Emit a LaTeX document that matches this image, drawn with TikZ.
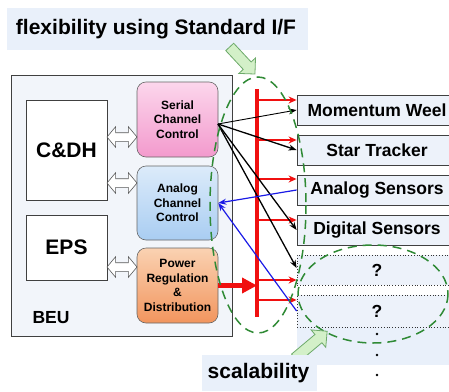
\documentclass[tikz,border=0pt]{standalone}
\usepackage{fontspec}
\setmainfont{Liberation Sans}
\usetikzlibrary{shapes.arrows,arrows.meta,calc}
\definecolor{lightbg}{HTML}{E9F0FA}
\definecolor{beufill}{HTML}{F2F5FA}
\definecolor{boxfill}{HTML}{EDF2FA}
\definecolor{edgegray}{HTML}{404040}
\definecolor{pinkA}{HTML}{FCD6EC}
\definecolor{pinkB}{HTML}{F39ACD}
\definecolor{blueA}{HTML}{DCEBFA}
\definecolor{blueB}{HTML}{A9CDF2}
\definecolor{orA}{HTML}{FAD2B2}
\definecolor{orB}{HTML}{F2955E}
\definecolor{ellgreen}{HTML}{2F8A35}
\definecolor{arrfill}{HTML}{D3F0C8}
\definecolor{arrdraw}{HTML}{6DAA6A}
\definecolor{busred}{HTML}{F01010}
\definecolor{linkblue}{HTML}{1A1AE6}
\begin{document}
\begin{tikzpicture}[x=1pt,y=-1pt,
  plainbox/.style={draw=edgegray,line width=0.8pt,inner sep=0pt,font=\bfseries},
  ctrl/.style={draw=gray!80!black,line width=0.6pt,rounded corners=9pt,inner sep=0pt,
     minimum width=81pt,align=center,font=\fontsize{12}{14.5}\selectfont\bfseries},
  devbox/.style={draw=edgegray,line width=0.8pt,fill=boxfill,inner sep=0pt,
     minimum width=160pt,minimum height=30pt,font=\fontsize{17.5}{20}\selectfont\bfseries},
  qbox/.style={devbox,draw=black!80,dotted,line width=0.8pt},
  dbl/.style={double arrow,draw=gray!70!black,fill=white,line width=0.6pt,inner sep=4pt,
     minimum height=30pt,double arrow head extend=6pt,double arrow tip angle=100},
  greenarrow/.style={single arrow,draw=arrdraw,fill=arrfill,line width=0.8pt,inner sep=5pt,
     single arrow head extend=6pt},
  ell/.style={draw=ellgreen,line width=1.5pt,dash pattern=on 9pt off 6pt},
  redarr/.style={busred,line width=1.6pt,-{Stealth[length=8pt,width=7pt]}},
  blackarr/.style={black,line width=1.3pt,-{Stealth[length=8pt,width=6pt]}},
  bluearr/.style={linkblue,line width=1.2pt,-{Stealth[length=8pt,width=6pt]}}
]
\useasboundingbox (0,0) rectangle (449,391);

% title
\node[fill=lightbg,minimum width=301pt,minimum height=42pt,inner sep=0pt] (titlebg) at (157.5,29) {};
\node[font=\fontsize{21}{24}\selectfont\bfseries] (title) at (156,29) {flexibility using Standard I/F};

% BEU container
\node[plainbox,fill=beufill,minimum width=221pt,minimum height=261pt] (beu) at (121.5,205.5) {};
\node[font=\fontsize{17.5}{20}\selectfont\bfseries] (beulabel) at (51,318) {BEU};

\node[plainbox,fill=white,minimum width=81pt,minimum height=100pt,font=\fontsize{21}{24}\selectfont\bfseries] (cdh) at (66.5,150) {C\&DH};
\node[plainbox,fill=white,minimum width=81pt,minimum height=65pt,font=\fontsize{21}{24}\selectfont\bfseries] (eps) at (66.5,247.5) {EPS};

\node[ctrl,top color=pinkA,bottom color=pinkB,minimum height=75pt] (scc) at (177.5,119.5) {Serial\\Channel\\Control};
\node[ctrl,top color=blueA,bottom color=blueB,minimum height=74pt] (acc) at (177.5,203) {Analog\\Channel\\Control};
\node[ctrl,top color=orA,bottom color=orB,minimum height=75pt] (prd) at (177.5,285.5) {Power\\Regulation\\\&\\Distribution};

\node[dbl] (d1) at (122,137) {};
\node[dbl] (d2) at (122,183) {};
\node[dbl] (d3) at (122,267) {};

% devices
\fill[lightbg] (297,327) rectangle (449,365);
\node[devbox] (mw) at (377,110) {Momentum Weel};
\node[devbox] (st) at (377,150) {Star Tracker};
\node[devbox] (as) at (377,190) {Analog Sensors};
\node[devbox] (ds) at (377,230) {Digital Sensors};
\node[qbox,minimum height=30pt] (q1) at (377,270) {?};
\node[qbox,minimum height=32pt] (q2) at (377,311) {?};
\fill (377,334) circle (1.4pt) (377,355) circle (1.4pt) (377,375) circle (1.4pt);

% bus
\coordinate (bustop) at (257,89);
\coordinate (busbot) at (257,317);
\draw[busred,line width=3.5pt] (bustop) -- (busbot);
\foreach \y/\t in {100/mw,140/st,179/as,220/ds,280/q1,300/q2}{
  \coordinate (b-\t) at (257,\y);
  \draw[redarr] (b-\t) -- (b-\t -| \t.west);
}
\draw[busred,line width=5pt,-{Triangle[length=15pt,width=15pt]}] (prd.east) -- (prd.east -| bustop);

% serial links
\coordinate (sp) at (218,124);
\draw[blackarr,line width=0.9pt] (sp) -- (mw.west);
\draw[blackarr] (sp) -- (st.west);
\draw[blackarr] (sp) -- (ds.west);
\draw[blackarr] (sp) -- ($(q1.west)+(0,-2)$);

% analog links
\draw[bluearr] (as.west) -- (acc.east);
\draw[bluearr] (q2.west) -- (acc.east);

% ellipses
\draw[ell] (258,205) ellipse [x radius=48, y radius=128];
\draw[ell] (373,294) ellipse [x radius=75, y radius=49];

% green arrows
\node[greenarrow,minimum height=37pt,rotate=-47] (ga1) at (240.5,58.5) {};
\node[greenarrow,minimum height=42pt,rotate=40] (ga2) at (309,346.5) {};

% scalability
\node[fill=lightbg,minimum width=115pt,minimum height=36pt,inner sep=0pt] (scbg) at (259.5,373) {};
\node[font=\fontsize{21}{24}\selectfont\bfseries] (sc) at (258.5,373) {scalability};
\end{tikzpicture}
\end{document}
